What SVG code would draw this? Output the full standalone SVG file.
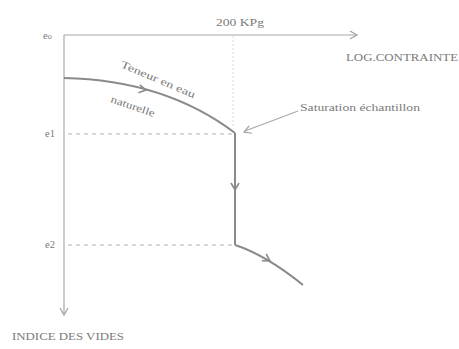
<svg xmlns="http://www.w3.org/2000/svg" width="459" height="349" viewBox="0 0 459 349">
<style>
.axis{stroke:#a8a8a8;stroke-width:1.2;fill:none}
.curve{stroke:#8a8a8a;stroke-width:2;fill:none}
.dash{stroke:#b0b0b0;stroke-width:1;stroke-dasharray:4 4;fill:none}
.faint{stroke:#dcdcdc;stroke-width:1;fill:none}
.chev{stroke:#8a8a8a;stroke-width:1.6;fill:none;stroke-linejoin:miter}
.chevA{stroke:#a0a0a0;stroke-width:1.2;fill:none}
text{font-family:"Liberation Serif","Times New Roman",serif;fill:#7a7a7a;font-size:10.5px}
</style>
<defs>
<path id="chev" d="M-7,-4 L0,0 L-7,4"/>
</defs>
<rect width="459" height="349" fill="#ffffff"/>
<g id="axes">
<line class="axis" x1="64" y1="35" x2="357" y2="35"/>
<line class="axis" x1="64" y1="35" x2="64" y2="315"/>
<use href="#chev" class="chevA" transform="translate(357,35)"/>
<use href="#chev" class="chevA" transform="translate(64,315) rotate(90)"/>
</g>
<g id="labels">
<text x="216" y="26" textLength="48" lengthAdjust="spacingAndGlyphs">200 KPg</text>
<text x="346" y="61" textLength="112" lengthAdjust="spacingAndGlyphs">LOG.CONTRAINTE</text>
<text x="43" y="39">e<tspan font-size="8">o</tspan></text>
<text x="45" y="137" font-size="9">e1</text>
<text x="45" y="248" font-size="9">e2</text>
<text x="12" y="340" textLength="112" lengthAdjust="spacingAndGlyphs">INDICE DES VIDES</text>
<text x="300" y="111" textLength="120" lengthAdjust="spacingAndGlyphs">Saturation échantillon</text>
<text x="120" y="67" transform="rotate(23 120 67)" textLength="80" lengthAdjust="spacingAndGlyphs">Teneur en eau</text>
<text x="110" y="102" transform="rotate(19 110 102)" textLength="46" lengthAdjust="spacingAndGlyphs">naturelle</text>
</g>
<g id="connectors">
<line class="faint" x1="233" y1="36" x2="233" y2="127" stroke-dasharray="2 2"/>
<line class="dash" x1="68" y1="134" x2="233" y2="134"/>
<line class="dash" x1="68" y1="245" x2="233" y2="245"/>
<path class="curve" d="M64,78 Q165,80 235,133"/>
<use href="#chev" class="chev" transform="translate(146,90) rotate(10)"/>
<path class="curve" d="M235,133 L235,245"/>
<use href="#chev" class="chev" transform="translate(235,190) rotate(90)"/>
<path class="curve" d="M235,245 Q266,255 303,285"/>
<use href="#chev" class="chev" transform="translate(270,261) rotate(32)"/>
<line class="axis" x1="298" y1="111" x2="245" y2="131"/>
<use href="#chev" class="chevA" transform="translate(244,132) rotate(159)"/>
</g>
</svg>
